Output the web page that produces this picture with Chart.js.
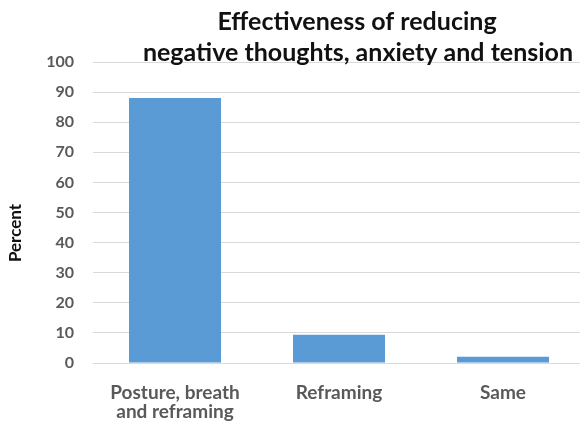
<!DOCTYPE html>
<html>
<head>
<meta charset="utf-8">
<script src="https://cdn.jsdelivr.net/npm/chart.js@4/dist/chart.umd.min.js"></script>
<style>
  html, body { margin: 0; padding: 0; background: #fff; overflow: hidden; }
  #wrap { position: relative; width: 590px; height: 425px; }
</style>
</head>
<body>
<div id="wrap"><canvas id="chart"></canvas></div>
<script>
// Share of participants reporting reduced negative thoughts, anxiety and tension
const categories = [["Posture, breath", "and reframing"], "Reframing", "Same"];
const percentValues = [88, 9.4, 2.1];
const yTickValues = [0, 10, 20, 30, 40, 50, 60, 70, 80, 90, 100];
const titleLines = ["Effectiveness of reducing", "negative thoughts, anxiety and tension"];
const yAxisTitle = "Percent";

const FONT = "Lato, 'Open Sans', 'Liberation Sans', sans-serif";

// Two-line heading and the vertical axis caption, placed by hand
const headingPlugin = {
  id: "heading",
  afterDraw(chart) {
    const ctx = chart.ctx;
    ctx.save();
    ctx.fillStyle = "#111111";
    ctx.textAlign = "center";
    ctx.textBaseline = "alphabetic";
    ctx.font = "bold 25px " + FONT;
    ctx.fillText(titleLines[0], 357, 30);
    ctx.fillText(titleLines[1], 358, 61);

    ctx.font = "bold 17px " + FONT;
    ctx.translate(16, 233);
    ctx.rotate(-Math.PI / 2);
    ctx.textBaseline = "middle";
    ctx.fillText(yAxisTitle, 0, 0);
    ctx.restore();
  }
};

new Chart(document.getElementById("chart"), {
  type: "bar",
  data: {
    labels: categories,
    datasets: [{
      data: percentValues,
      backgroundColor: "#5B9BD5",
      borderWidth: 0,
      categoryPercentage: 1.0,
      barPercentage: 0.561
    }]
  },
  options: {
    responsive: true,
    maintainAspectRatio: false,
    animation: false,
    layout: { padding: { top: 62, right: 5, left: 0, bottom: 0 } },
    plugins: {
      legend: { display: false },
      title: { display: false },
      tooltip: { enabled: false }
    },
    scales: {
      x: {
        grid: { display: false, drawTicks: false },
        border: { display: false },
        ticks: {
          color: "#595959",
          font: { family: FONT, size: 19, weight: "bold", lineHeight: 1.0 },
          padding: 20,
          maxRotation: 0,
          autoSkip: false
        },
        afterFit(scale) { scale.height = 62; }
      },
      y: {
        min: 0,
        max: 100,
        grid: { color: "#D9D9D9", lineWidth: 1, drawTicks: false },
        border: { display: false },
        afterBuildTicks(scale) { scale.ticks = yTickValues.map(v => ({ value: v })); },
        ticks: {
          color: "#595959",
          font: { family: FONT, size: 16, weight: "bold" },
          padding: 19
        },
        afterFit(scale) { scale.width = 93; }
      }
    }
  },
  plugins: [headingPlugin]
});
</script>
</body>
</html>
